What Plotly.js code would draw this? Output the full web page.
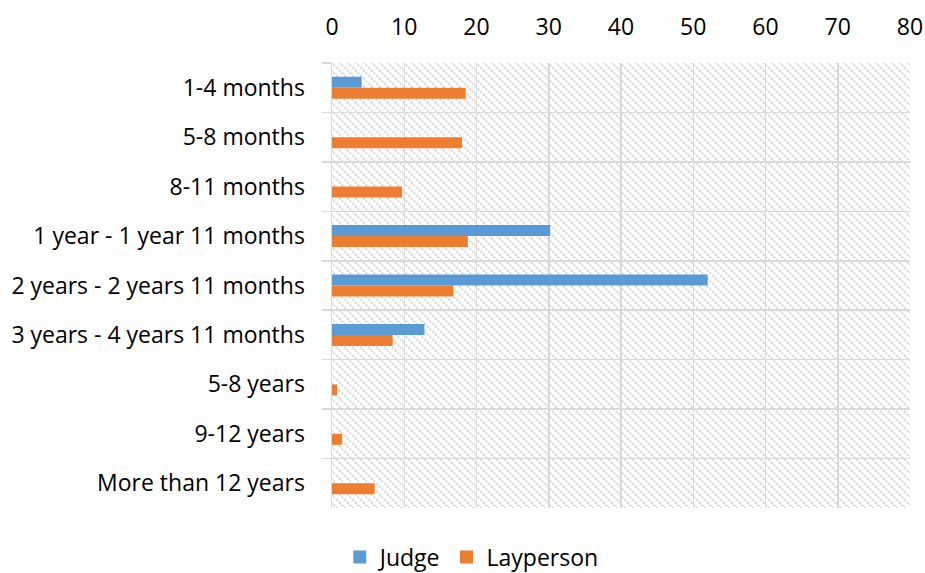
<!DOCTYPE html>
<html>
<head>
<meta charset="utf-8">
<script src="https://cdn.plot.ly/plotly-3.0.1.min.js"></script>
<style>html,body{margin:0;padding:0;background:#fff;}#chart{width:925px;height:573px;}</style>
</head>
<body>
<div id="chart"></div>
<script>
const categories = ["1-4 months","5-8 months","8-11 months","1 year - 1 year 11 months","2 years - 2 years 11 months","3 years - 4 years 11 months","5-8 years","9-12 years","More than 12 years"];
const judge = [4.1, 0, 0, 30.2, 52.0, 12.8, 0, 0, 0];
const layperson = [18.5, 18.0, 9.7, 18.8, 16.8, 8.4, 0.7, 1.4, 5.9];
const seriesNames = ["Judge", "Layperson"];
const seriesColors = ["#5B9BD5", "#ED7D31"];
const xTicks = [0,10,20,30,40,50,60,70,80];

const W = 578, H = 445;
const svg = `<svg xmlns="http://www.w3.org/2000/svg" width="${W}" height="${H}" viewBox="0 0 ${W} ${H}" preserveAspectRatio="none">
<defs><pattern id="p" width="8" height="8" patternUnits="userSpaceOnUse">
<path d="M-1,-1 L9,9 M-9,-1 L1,9 M7,-1 L17,9" stroke="#cfcfcf" stroke-width="1.4" stroke-dasharray="2.5,1"/>
</pattern></defs>
<rect width="${W}" height="${H}" fill="#fff"/>
<rect width="${W}" height="${H}" fill="url(#p)"/></svg>`;
const img = 'data:image/svg+xml;base64,' + btoa(svg);

const font = {family: '"Open Sans", sans-serif', size: 23, color: '#000'};

const data = [
  {type:'bar', orientation:'h', name:seriesNames[0], y:categories, x:judge, marker:{color:seriesColors[0]}, showlegend:false},
  {type:'bar', orientation:'h', name:seriesNames[1], y:categories, x:layperson, marker:{color:seriesColors[1]}, showlegend:false},
  {type:'scatter', mode:'markers', name:seriesNames[0], x:[null], y:[null], marker:{symbol:'square', size:13, color:seriesColors[0]}, showlegend:true},
  {type:'scatter', mode:'markers', name:seriesNames[1], x:[null], y:[null], marker:{symbol:'square', size:13, color:seriesColors[1]}, showlegend:true}
];

const layout = {
  width:925, height:573,
  margin:{l:332, r:15, t:63, b:65},
  paper_bgcolor:'#fff', plot_bgcolor:'rgba(0,0,0,0)',
  font: font,
  barmode:'group', bargap:0.555, bargroupgap:0,
  showlegend:true,
  legend:{orientation:'h', xref:'container', yref:'container', x:0.51, xanchor:'center', y:0.028, yanchor:'middle', font:font, traceorder:'normal', itemwidth:30},
  xaxis:{side:'top', range:[0,80], tickvals:xTicks, ticktext:xTicks.map(String), showgrid:true, gridcolor:'#d9d9d9', gridwidth:1.5, zeroline:false, showline:false, ticks:'', tickfont:font, ticklabelstandoff:22, fixedrange:true},
  yaxis:{type:'category', categoryorder:'array', categoryarray:categories, autorange:'reversed', tickson:'boundaries', showgrid:true, gridcolor:'#d9d9d9', gridwidth:1.5, ticks:'outside', ticklen:9, tickcolor:'#d9d9d9', tickwidth:1.5, showline:true, linecolor:'#d9d9d9', linewidth:1.5, tickfont:font, ticklabelstandoff:21},
  images:[{source:img, xref:'paper', yref:'paper', x:0, y:1, sizex:1, sizey:1, sizing:'stretch', xanchor:'left', yanchor:'top', layer:'below'}]
};

Plotly.newPlot('chart', data, layout, {displayModeBar:false, staticPlot:true});
</script>
</body>
</html>
